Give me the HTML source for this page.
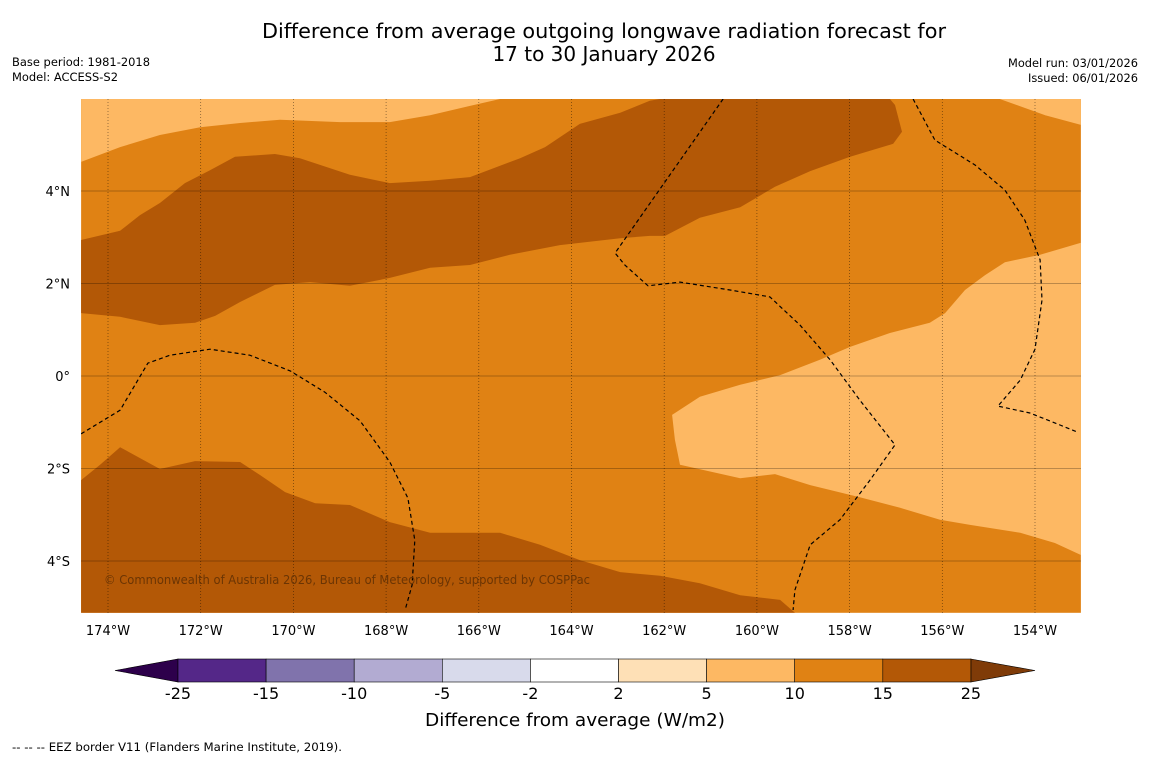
<!DOCTYPE html>
<html><head><meta charset="utf-8"><style>
body{margin:0;background:#fff;width:1150px;height:758px;overflow:hidden;font-family:"DejaVu Sans",sans-serif}
</style></head><body>
<svg id="svg" width="1150" height="758" xmlns="http://www.w3.org/2000/svg" font-family="DejaVu Sans, sans-serif">
<text x="262" y="38" font-size="20" textLength="684" lengthAdjust="spacingAndGlyphs">Difference from average outgoing longwave radiation forecast for</text>
<text x="604" y="61" font-size="20" text-anchor="middle">17 to 30 January 2026</text>
<text x="12" y="66" font-size="11.5" textLength="138" lengthAdjust="spacingAndGlyphs">Base period: 1981-2018</text>
<text x="12" y="81" font-size="11.5" textLength="106" lengthAdjust="spacingAndGlyphs">Model: ACCESS-S2</text>
<text x="1008" y="67" font-size="11.5" textLength="130" lengthAdjust="spacingAndGlyphs">Model run: 03/01/2026</text>
<text x="1028" y="82" font-size="11.5" textLength="110" lengthAdjust="spacingAndGlyphs">Issued: 06/01/2026</text>
<defs><clipPath id="mapclip"><rect x="81" y="99" width="1000" height="514"/></clipPath></defs>
<g id="map" clip-path="url(#mapclip)"></g>
<g id="axes"></g>
<text x="104" y="584" font-size="12" fill="#6b3504" textLength="486" lengthAdjust="spacingAndGlyphs">© Commonwealth of Australia 2026, Bureau of Meteorology, supported by COSPPac</text>
<g id="cbar"></g>
<text x="425" y="726" font-size="18" textLength="300" lengthAdjust="spacingAndGlyphs">Difference from average (W/m2)</text>
<text x="12" y="751" font-size="11.5" textLength="330" lengthAdjust="spacingAndGlyphs">--  --  -- EEZ border V11 (Flanders Marine Institute, 2019).</text>
</svg>
<script>
const lonTicks=[-174,-172,-170,-168,-166,-164,-162,-160,-158,-156,-154];
const latTicks=[4,2,0,-2,-4];
const extent=[-174.58,-153.01,-5.12,5.99];
const lightTopLeft=[[-174.58,5.99],[-165.54,5.99],[-166.19,5.84],[-167.05,5.64],[-167.92,5.49],[-168.99,5.49],[-170.29,5.54],[-171.15,5.47],[-172.01,5.38],[-172.88,5.21],[-173.74,4.95],[-174.58,4.63]];
const lightTopRight=[[-154.76,5.99],[-153.78,5.64],[-153.01,5.43],[-153.01,5.99]];
const lightRight=[[-153.01,2.88],[-153.89,2.62],[-154.65,2.46],[-155.08,2.18],[-155.51,1.86],[-155.94,1.36],[-156.27,1.15],[-157.13,0.93],[-157.99,0.63],[-158.64,0.35],[-159.5,0.02],[-160.36,-0.19],[-161.23,-0.45],[-161.83,-0.84],[-161.77,-1.38],[-161.66,-1.92],[-160.36,-2.21],[-159.61,-2.12],[-158.85,-2.36],[-157.78,-2.62],[-156.91,-2.85],[-156.05,-3.11],[-155.4,-3.22],[-154.32,-3.39],[-153.57,-3.61],[-153.01,-3.87]];
const darkTop=[[-174.58,2.94],[-173.74,3.14],[-173.31,3.48],[-172.88,3.74],[-172.34,4.17],[-171.8,4.45],[-171.26,4.74],[-170.4,4.8],[-169.86,4.71],[-168.78,4.35],[-167.92,4.17],[-167.05,4.22],[-166.19,4.3],[-165.11,4.71],[-164.57,4.95],[-163.82,5.45],[-162.95,5.69],[-162.31,5.95],[-162.09,5.99],[-157.13,5.99],[-157.02,5.86],[-156.87,5.28],[-157.06,5.02],[-157.99,4.74],[-158.85,4.43],[-159.61,4.09],[-160.36,3.65],[-161.23,3.42],[-161.98,3.03],[-162.31,3.03],[-162.95,2.98],[-164.25,2.83],[-165.33,2.62],[-166.19,2.4],[-167.05,2.34],[-167.92,2.12],[-168.78,1.95],[-169.64,2.03],[-170.4,1.97],[-171.15,1.6],[-171.69,1.3],[-172.12,1.15],[-172.88,1.1],[-173.74,1.28],[-174.58,1.36]];
const darkBottom=[[-174.58,-2.25],[-174.17,-1.92],[-173.74,-1.54],[-172.88,-2.01],[-172.12,-1.84],[-171.15,-1.86],[-170.72,-2.14],[-170.18,-2.51],[-169.53,-2.75],[-168.78,-2.79],[-167.92,-3.16],[-167.05,-3.39],[-165.54,-3.39],[-164.68,-3.65],[-163.82,-3.98],[-162.95,-4.24],[-162.09,-4.32],[-161.23,-4.48],[-160.36,-4.74],[-159.5,-4.84],[-159.18,-5.12],[-174.58,-5.12]];
const eez1=[[-174.58,-1.25],[-173.74,-0.74],[-173.14,0.28],[-172.66,0.45],[-171.8,0.58],[-170.94,0.45],[-170.07,0.11],[-169.32,-0.35],[-168.56,-0.97],[-167.92,-1.86],[-167.53,-2.64],[-167.38,-3.55],[-167.44,-4.52],[-167.59,-5.06]];
const eez2=[[-160.73,5.99],[-163.06,2.66],[-162.85,2.4],[-162.35,1.95],[-161.66,2.03],[-160.58,1.86],[-159.72,1.71],[-159.07,1.1],[-158.42,0.35],[-157.78,-0.52],[-157.02,-1.49],[-157.56,-2.25],[-158.21,-3.11],[-158.85,-3.65],[-159.18,-4.63],[-159.22,-5.06]];
const eez3=[[-156.63,5.99],[-156.16,5.1],[-155.29,4.56],[-154.65,4.02],[-154.22,3.37],[-153.89,2.51],[-153.85,1.64],[-154.0,0.58],[-154.32,-0.09],[-154.8,-0.65],[-154.11,-0.8],[-153.46,-1.06],[-153.09,-1.21]];
const cbarBounds=["-25","-15","-10","-5","-2","2","5","10","15","25"];
const cbarColors=["#542788","#8073ac","#b2abd2","#d8daeb","#ffffff","#fee0b6","#fdb863","#e08214","#b35806"];
const cbarLowColor="#2d004b", cbarHighColor="#7f3b08";

const NS="http://www.w3.org/2000/svg";
const xS=lon=>108+(lon+174)*46.35;
const yS=lat=>376-lat*46.25;
const map=document.getElementById('map'),axes=document.getElementById('axes'),cbar=document.getElementById('cbar');
function mk(tag,attrs,parent){const e=document.createElementNS(NS,tag);for(const k in attrs)e.setAttribute(k,attrs[k]);parent.appendChild(e);return e;}
const pts=a=>a.map(p=>xS(p[0]).toFixed(1)+','+yS(p[1]).toFixed(1)).join(' ');
let bg=mk('rect',{x:xS(extent[0]),y:yS(extent[3]),width:xS(extent[1])-xS(extent[0]),height:yS(extent[2])-yS(extent[3]),fill:'#e08214'},map);


[[lightTopLeft,'#fdb863','region-5-10-topleft'],[lightTopRight,'#fdb863','region-5-10-topright'],[lightRight,'#fdb863','region-5-10-east'],[darkTop,'#b35806','region-15-25-north'],[darkBottom,'#b35806','region-15-25-south']].forEach(([a,c,n])=>{
 const p=mk('polygon',{points:pts(a),fill:c},map);
 
 
});
[[eez1,'eez-border-west'],[eez2,'eez-border-central'],[eez3,'eez-border-east']].forEach(([a,n])=>{
 const l=mk('polyline',{points:pts(a),fill:'none',stroke:'#000','stroke-width':1.2,'stroke-dasharray':'4,3'},map);
 
 
});
lonTicks.forEach(v=>{
 const g=mk('line',{x1:xS(v),x2:xS(v),y1:99,y2:613,stroke:'#000','stroke-opacity':0.55,'stroke-width':0.7,'stroke-dasharray':'1,2'},map);
 
 
 const t=mk('text',{x:xS(v),y:635,'font-size':13,'text-anchor':'middle'},axes);
 t.textContent=Math.abs(v)+'°W';
 
 
});
latTicks.forEach(v=>{
 const g=mk('line',{x1:81,x2:1081,y1:yS(v),y2:yS(v),stroke:'#000','stroke-opacity':0.35,'stroke-width':0.8},map);
 
 
 const t=mk('text',{x:70,y:yS(v)+5,'font-size':13,'text-anchor':'end'},axes);
 t.textContent=v===0?'0°':Math.abs(v)+'°'+(v>0?'N':'S');
 
 
});
const cx0=178,cw=88.1,cy=659,ch=23;
const lo=mk('polygon',{points:`115,670.5 ${cx0},${cy} ${cx0},${cy+ch}`,fill:cbarLowColor,stroke:'#000','stroke-width':0.6},cbar);


const hx=cx0+cw*cbarColors.length;
const hi=mk('polygon',{points:`${hx},${cy} 1035,670.5 ${hx},${cy+ch}`,fill:cbarHighColor,stroke:'#000','stroke-width':0.6},cbar);


cbarColors.forEach((c,i)=>{
 const r=mk('rect',{x:cx0+cw*i,y:cy,width:cw,height:ch,fill:c,stroke:'#000','stroke-width':0.6},cbar);
 
 
});
cbarBounds.forEach((b,i)=>{
 const t=mk('text',{x:cx0+cw*i,y:699,'font-size':16,'text-anchor':'middle'},cbar);
 t.textContent=b;
 
 
});
</script>
</body></html>
